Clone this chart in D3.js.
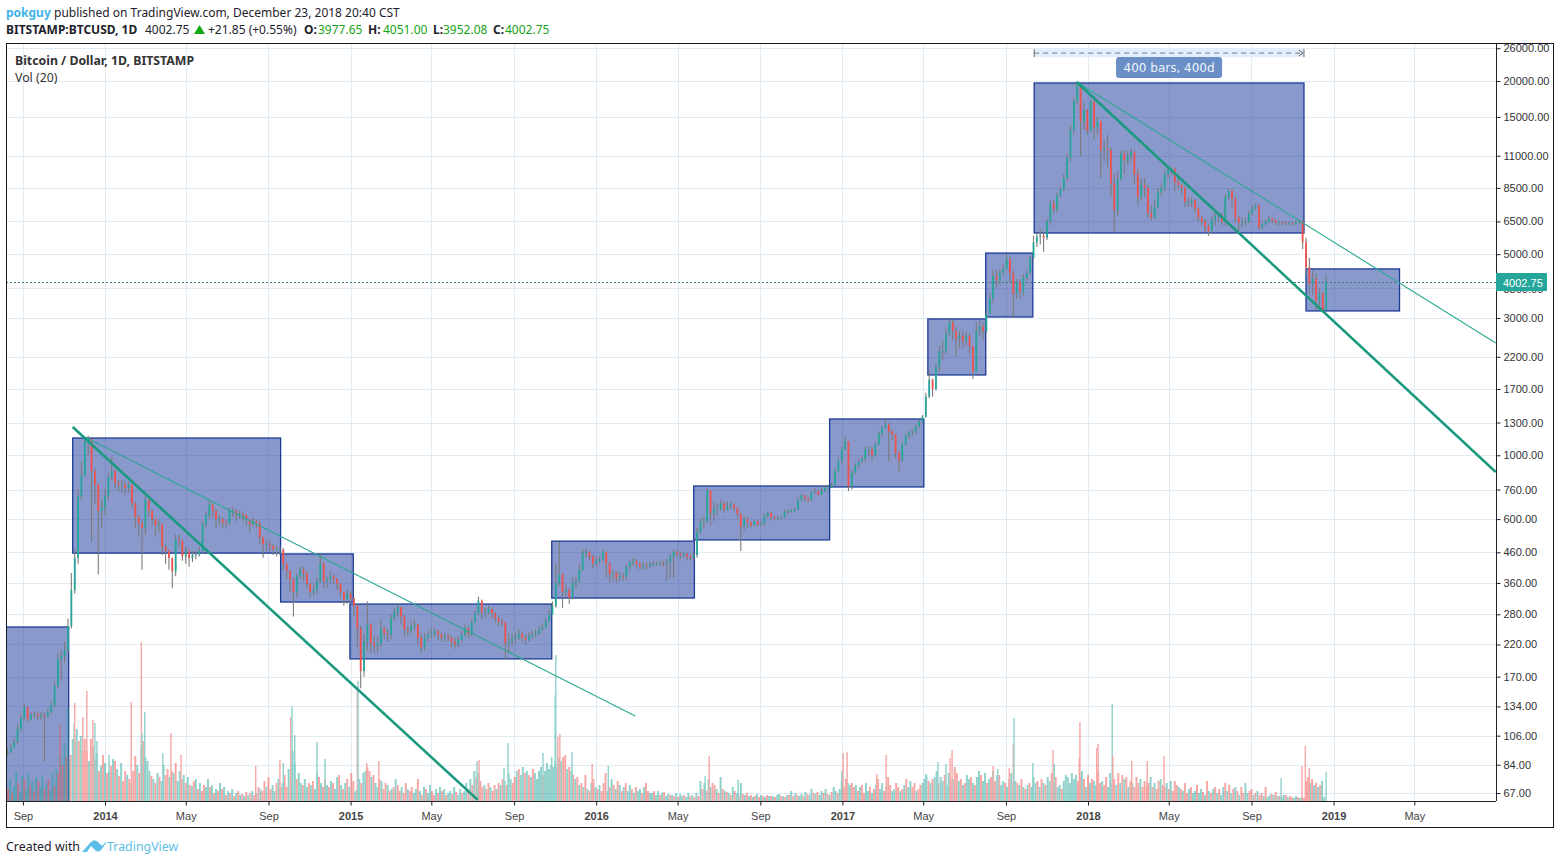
<!DOCTYPE html>
<html><head><meta charset="utf-8">
<script src="https://cdn.jsdelivr.net/npm/d3@7/dist/d3.min.js"></script>
<style>html,body{margin:0;padding:0;background:#fff}svg{display:block}</style>
</head><body><svg id="c" width="1560" height="864"></svg>
<script>
// ---- data ----
const candleFirstDate = "2013-08-09", candleStepDays = 5;
const closes = [93,96,101,112,122,133,121,125,126,124,
125,124,128,135,158,196,200,210,255,340,
440,720,850,1120,1140,880,790,640,660,720,
840,880,800,790,790,770,790,680,610,580,
560,700,640,600,570,575,480,465,440,395,
510,505,445,465,440,450,452,465,575,620,
675,640,600,600,585,580,640,640,620,625,
620,600,575,590,580,520,490,490,485,470,
470,470,420,395,370,335,380,400,390,358,
335,340,365,420,365,370,380,372,358,335,
315,330,318,300,250,178,225,258,222,218,
222,250,240,238,272,285,296,275,248,245,
255,258,232,215,232,238,240,245,238,232,
235,232,225,220,228,238,250,240,262,282,
312,285,285,292,282,272,265,262,222,226,
230,232,240,232,228,235,238,240,248,252,
265,280,300,360,385,335,340,320,360,365,
400,458,462,445,420,430,435,460,420,385,
390,375,380,378,410,425,430,420,410,415,
412,418,420,420,422,420,425,445,462,455,
450,455,445,440,450,540,585,590,755,630,
650,650,680,650,665,675,655,625,565,600,
585,572,590,575,580,615,630,610,603,608,
610,635,640,640,650,700,725,710,700,745,
750,730,750,770,775,790,880,960,1050,1120,
780,870,920,950,970,1050,1050,1000,1090,1190,
1250,1280,1210,1180,1020,960,1090,1170,1200,1210,
1260,1310,1360,1600,1830,1700,2030,2300,2300,2650,
2900,2700,2550,2600,2500,2600,2400,1950,2700,2800,
2700,3100,3500,4200,4050,4300,4450,4800,4300,3650,
4000,3700,4150,4300,4850,5500,5750,5800,5700,6500,
7500,7150,8000,8400,9200,10800,13500,17000,19300,14500,
15800,13500,17000,13800,14500,11500,11600,11500,8800,7100,
9100,11200,10600,11000,11300,9500,7900,8700,8500,6950,
6700,7300,8200,8500,9500,9800,9900,8900,8700,8500,
7600,7600,7700,7200,6700,6500,6250,6000,6600,6800,
6850,6500,7900,8300,7800,6700,6450,6480,6500,6950,
7200,7400,6200,6350,6500,6650,6550,6450,6450,6430,
6400,6420,6380,6480,6500,5500,4500,3950,4100,3450,
3650,3200,4002.75];
const highs = [96,99,104,116,125,137,134,128,129,128,
128,128,131,139,163,205,212,225,270,390,
470,760,950,1160,1170,1140,900,800,700,760,
870,990,890,820,820,810,810,790,690,620,
600,720,700,650,600,600,580,490,470,440,
530,530,510,480,470,465,465,480,590,640,
700,680,650,620,610,600,660,660,650,640,
640,625,600,610,600,590,520,510,505,490,
485,485,475,420,400,375,390,410,410,395,
360,355,375,455,425,380,395,385,375,360,
335,340,335,320,305,255,240,310,262,235,
235,270,255,250,280,295,305,298,280,255,
265,268,258,240,240,245,250,252,248,242,
242,240,235,232,235,245,258,255,270,290,
322,315,295,300,295,285,278,270,265,240,
240,242,248,245,238,242,245,248,255,260,
272,290,310,420,500,390,355,345,375,378,
420,470,475,465,450,445,445,470,465,425,
400,395,392,390,420,435,440,435,425,425,
425,425,428,428,430,430,435,455,470,470,
462,462,458,452,460,560,600,610,770,750,
690,680,700,690,690,690,680,660,630,615,
610,590,600,595,590,625,640,635,615,615,
618,645,650,650,660,715,735,730,715,755,
770,760,775,785,790,805,900,980,1070,1160,
1120,890,940,970,990,1070,1080,1070,1110,1210,
1270,1340,1300,1230,1190,1040,1110,1190,1220,1230,
1280,1330,1380,1650,1950,1850,2080,2400,2500,2750,
3000,2950,2800,2700,2700,2680,2650,2400,2900,2950,
2900,3200,3650,4400,4400,4450,4600,5000,4900,4400,
4100,4100,4250,4400,4950,5800,5950,6100,6000,6650,
7700,7700,8200,8600,9500,11200,14000,17500,19700,19300,
16800,16000,17200,17000,15000,14500,12500,13000,11800,9500,
9700,11500,11500,11400,11700,11500,9900,9200,9200,8700,
7400,7700,8500,8800,9800,10100,10000,10000,9200,8800,
8600,7900,7900,7800,7300,6800,6600,6400,6800,7000,
7000,6950,8100,8500,8400,7900,6800,6700,6700,7100,
7400,7500,7450,6500,6600,6800,6700,6600,6550,6540,
6500,6500,6480,6550,6600,6500,5700,4850,4400,4300,
3800,3700,4250];
const lows = [90,92,97,99,110,120,118,120,122,120,
120,86,122,126,133,155,165,190,205,250,
330,420,700,840,1000,500,680,385,560,620,
700,820,770,750,740,730,740,660,560,520,
400,530,610,570,520,540,450,420,400,345,
380,480,430,420,410,425,435,445,455,560,
600,610,560,570,560,555,570,610,590,600,
590,570,540,565,555,490,440,465,465,450,
445,450,400,370,335,275,320,370,365,345,
320,325,330,360,345,345,360,355,340,320,
300,305,305,275,215,155,170,210,205,205,
205,215,230,225,230,265,275,260,235,235,
240,245,220,205,210,225,230,235,228,225,
225,225,215,212,215,225,235,232,235,262,
278,270,272,280,270,262,255,255,195,205,
218,222,228,225,220,225,230,232,238,245,
252,265,280,295,350,295,320,305,315,345,
360,395,440,430,405,410,420,425,375,360,
365,360,365,365,370,400,410,405,400,400,
400,405,410,412,412,410,365,375,375,440,
435,440,430,430,430,440,535,560,580,570,
590,620,640,630,640,650,640,600,465,550,
560,560,565,565,565,570,605,595,595,595,
600,605,625,630,635,645,695,690,685,695,
730,720,725,745,760,770,785,870,940,1040,
750,760,860,900,940,950,1000,960,990,1080,
1170,1240,950,1130,980,880,950,1080,1140,1170,
1190,1250,1300,1350,1580,1600,1680,1950,2150,2250,
2600,2500,2200,2350,2350,2400,2250,1840,1950,2600,
2500,2650,3100,3400,3800,3900,4200,4400,4000,3000,
3500,3500,3600,4050,4250,4800,5300,5400,5100,5600,
6300,6900,7000,7900,8300,9000,10500,13000,16500,11000,
13500,13000,13300,12500,13000,9200,10500,10000,7900,5960,
6800,9000,9500,10200,10500,8800,7400,7700,7900,6700,
6550,6650,7200,8000,8300,9200,9400,8300,8400,8100,
7300,7300,7300,7000,6500,6300,5950,5800,5900,6300,
6500,6300,6300,7700,7300,6450,6000,6200,6300,6400,
6800,7100,6100,6100,6300,6400,6400,6300,6300,6300,
6280,6300,6250,6300,6350,5200,4200,3650,3600,3200,
3200,3130,3600];

// relative volume, one reading per three days; negative = down day
const volFirstDate = "2013-08-07", volStepDays = 3;
const volumes = [8,-12,22,-8,15,30,-18,9,25,-22,12,28,-16,20,-10,24,-20,14,26,-12,
18,-22,10,28,-15,32,-28,45,-36,58,-44,40,-46,62,60,72,-60,65,-50,-62,
-50,40,-62,55,-42,48,-30,35,-46,38,-28,30,-35,42,-40,32,-25,38,-20,-30,
26,-22,18,-30,-45,36,-28,55,-60,44,40,30,-25,22,-18,28,-24,20,36,-26,
-32,24,-30,28,-38,20,30,-22,26,-18,24,-16,15,-20,22,-12,18,-10,-16,14,
22,-14,16,-8,12,-10,18,-12,14,-6,10,-8,12,-5,8,-10,6,-7,5,-9,
6,-8,10,-6,8,-14,12,-10,-20,14,-24,-12,16,10,-18,22,-14,18,-26,-14,
32,-20,50,38,-22,28,18,-16,22,14,-18,16,-20,12,28,-24,18,-14,-22,16,
-14,20,-18,12,24,-26,16,-12,18,-22,14,-28,-20,10,12,22,-18,28,30,-34,
-30,24,-26,18,14,-22,20,-12,-18,16,-10,12,-14,22,-16,-10,14,-8,-18,12,
-10,-14,8,12,-22,10,-6,14,-12,8,16,-10,-6,12,-8,14,-10,12,-6,8,
10,-7,14,-9,6,12,-8,10,18,-12,22,-16,30,-24,28,-20,-14,16,-12,-18,
14,-10,-16,12,-18,16,-22,20,-16,28,22,-18,-24,30,-32,26,34,-28,30,-26,
24,-32,28,22,30,34,-26,30,38,32,36,34,40,34,44,40,-44,-46,32,-34,
30,-26,22,-24,16,-18,14,-26,12,-10,18,-22,14,-12,16,-10,-18,-28,10,-14,
22,-16,12,-20,16,-10,14,-18,10,16,-12,8,-14,10,12,-8,14,-18,-10,8,
8,-10,6,10,-6,8,-9,5,7,-6,6,-5,8,-4,7,5,-6,4,8,-5,
6,-4,8,-5,20,-12,18,-10,22,14,-18,-16,12,-8,24,-12,10,-9,8,-6,
14,-10,8,-6,18,-7,6,-8,5,-6,4,-5,7,-4,6,-5,4,-6,5,-5,
5,-4,6,7,-5,5,-4,6,-6,10,-5,8,-6,5,7,-5,9,-7,6,12,
-8,7,-9,6,10,-8,12,-7,6,-9,14,10,-8,12,20,-14,-22,18,16,-18,
-14,16,-10,14,-16,-8,18,10,-14,8,-12,16,-22,12,18,-10,14,-24,-16,10,
12,-18,-14,10,-12,16,-22,14,20,-14,-18,10,-12,-16,18,22,26,-20,18,-22,
24,30,-18,24,20,-26,16,28,-20,22,-34,-28,20,-22,16,-18,26,22,-24,18,
-16,24,30,-26,20,28,-18,22,-24,30,-20,26,-26,16,20,-18,14,-22,28,-18,
20,-18,16,-22,14,-12,16,-18,14,24,18,-20,14,-22,18,-16,24,20,-28,16,
-24,14,16,-12,20,26,24,18,28,22,26,-20,-24,30,-22,14,-26,18,-22,20,
16,-30,-18,20,-16,-24,14,28,-18,-22,16,-28,18,-26,22,-24,14,-20,18,-14,
-24,-18,22,-14,-20,-16,-18,24,-14,18,-12,-20,22,-16,-14,18,-12,20,-10,-20,
-16,14,-12,10,-18,-8,12,-14,8,10,-16,8,12,-9,6,-20,10,-8,12,-14,
8,-12,6,14,-18,10,-16,8,-12,14,-10,6,-14,-8,18,8,-10,-12,6,-8,
10,-6,-8,5,-14,4,6,-7,6,-9,5,-5,4,6,-6,4,-5,-4,3,5,
-4,3,4,-3,-20,-24,18,-22,16,-18,14,-16,20,4];
// individual tall volume bars: days after 2014-01-01, and size
const spikeDays = [-67,-55,-46,-45,-33,-27,-18,-15,-12,6,39,54,55,59,86,98,113,224,260,265,276,278,282,315,327,375,376,389,407,553,556,593,599,651,664,669,670,673,676,694,724,748,892,898,941,1095,1097,1103,1147,1161,1220,1238,1250,1256,1259,1320,1327,1344,1350,1351,1379,1409,1411,1448,1449,1474,1476,1497,1498,1526,1549,1574,1748,1779,1784,1790,1815];
const spikeVols = [-76,93,78,-98,-84,-110,-81,78,60,46,-99,-159,68,89,48,-68,-46,-35,-41,38,-84,95,66,59,42,-115,120,-38,-40,40,-41,33,58,48,44,106,146,-64,-67,49,-37,35,25,-45,21,30,-48,-49,-27,-46,27,39,37,-43,-51,-35,32,-33,-57,83,38,-51,37,-43,-79,-53,-57,97,-45,-40,-40,-45,23,-35,-55,-33,29];

// [start, end, high price, low price]
const boxes = [
 ["2013-07-01","2013-11-08",253,40],
 ["2013-11-14","2014-09-19",1148,457],
 ["2014-09-19","2015-01-05",454,309],
 ["2014-12-31","2015-10-27",304,196],
 ["2015-10-27","2016-05-26",503,319],
 ["2016-05-25","2016-12-13",782,508],
 ["2016-12-13","2017-05-02",1337,776],
 ["2017-05-08","2017-08-02",2978,1902],
 ["2017-08-02","2017-10-11",5045,3026],
 ["2017-10-13","2018-11-18",19682,5925],
 ["2018-11-21","2019-04-09",4444,3175]
];
// [start date, start price, end date, end price]
const thickLines = [
 ["2013-11-14",1254,"2015-07-09",63.4],
 ["2017-12-15",19840,"2019-08-30",875]
];
const thinLines = [
 ["2013-12-02",1158,"2016-02-28",124],
 ["2017-12-15",19840,"2019-08-30",2458]
];
const priceTicks = [26000,20000,15000,11000,8500,6500,5000,3800,3000,2200,1700,1300,1000,760,600,460,360,280,220,170,134,106,84,67];
const timeTicks = ["2013-09-01","2014-01-01","2014-05-01","2014-09-01","2015-01-01","2015-05-01","2015-09-01","2016-01-01","2016-05-01","2016-09-01","2017-01-01","2017-05-01","2017-09-01","2018-01-01","2018-05-01","2018-09-01","2019-01-01","2019-05-01"];
const lastPrice = 4002.75;
const measure = {start:"2017-10-13", end:"2018-11-18", label:"400 bars, 400d"};

// ---- layout ----
const L=6,R=1553,T=43,B=827,PR=1496,PB=801;
const DAY=864e5, D=s=>new Date(s+"T00:00:00Z");
const x=d3.scaleUtc().domain([D("2014-01-01"),D("2018-01-01")]).range([105,1088]);
const y=d3.scaleLog().base(10).domain([20000,67]).range([81,793]);
const vol=d3.scaleLinear().domain([0,160]).range([PB,PB-160]);
const UP="#26a69a",DN="#ef5350",GRID="#e1ebf3";
const svg=d3.select("#c");
const UI="'Noto Sans','Open Sans',sans-serif", AX="'Liberation Sans',Arial,sans-serif";

svg.append("defs").append("clipPath").attr("id","pane").append("rect")
  .attr("x",L).attr("y",T).attr("width",PR-L).attr("height",PB-T);

// grid
const grid=svg.append("g").attr("stroke",GRID).attr("stroke-width",1);
grid.selectAll(".gv").data(timeTicks).join("line").attr("x1",d=>Math.round(x(D(d)))+.5).attr("x2",d=>Math.round(x(D(d)))+.5).attr("y1",T).attr("y2",PB);
grid.selectAll(".gh").data(priceTicks).join("line").attr("x1",L).attr("x2",PR).attr("y1",d=>Math.round(y(d))+.5).attr("y2",d=>Math.round(y(d))+.5);

const pane=svg.append("g").attr("clip-path","url(#pane)");

// boxes
pane.append("g").selectAll("rect").data(boxes).join("rect")
  .attr("x",d=>x(D(d[0]))).attr("width",d=>x(D(d[1]))-x(D(d[0])))
  .attr("y",d=>y(d[2])).attr("height",d=>y(d[3])-y(d[2]))
  .attr("fill","rgba(21,51,153,.5)").attr("stroke","#1b3a96").attr("stroke-width",1.3);

// volume (flattened at half opacity, above the boxes)
const vg=pane.append("g").attr("opacity",.5);
const v0=D(volFirstDate).getTime();
vg.append("g").selectAll("rect").data(volumes).join("rect")
  .attr("x",(d,i)=>x(new Date(v0+i*volStepDays*DAY))-1).attr("width",2)
  .attr("y",d=>vol(Math.abs(d))).attr("height",d=>PB-vol(Math.abs(d)))
  .attr("fill",d=>d<0?DN:UP);
const base=D("2014-01-01").getTime();
vg.append("g").selectAll("rect").data(spikeVols).join("rect")
  .attr("x",(d,i)=>x(new Date(base+spikeDays[i]*DAY))-.7).attr("width",1.4)
  .attr("y",d=>vol(Math.abs(d))).attr("height",d=>PB-vol(Math.abs(d)))
  .attr("fill",d=>d<0?DN:UP);

// last price lines
const ly=Math.round(y(lastPrice))+.5;
pane.append("line").attr("x1",L).attr("x2",PR).attr("y1",ly).attr("y2",ly).attr("stroke","#3d7f7c").attr("stroke-dasharray","2 2").attr("stroke-width",1);

// candles
const c0=D(candleFirstDate).getTime();
const cx=i=>x(new Date(c0+i*candleStepDays*DAY));
const cdl=pane.append("g");
cdl.append("g").selectAll("line").data(closes).join("line")
  .attr("x1",(d,i)=>cx(i)).attr("x2",(d,i)=>cx(i))
  .attr("y1",(d,i)=>y(highs[i])).attr("y2",(d,i)=>y(lows[i]))
  .attr("stroke","#7b7b7b").attr("stroke-width",1.1);
cdl.append("g").selectAll("rect").data(closes).join("rect")
  .attr("x",(d,i)=>cx(i)-.9).attr("width",1.8)
  .attr("y",(d,i)=>y(Math.max(d,i?closes[i-1]:d)))
  .attr("height",(d,i)=>Math.max(.8,Math.abs(y(d)-y(i?closes[i-1]:d))))
  .attr("fill",(d,i)=>(i&&d<closes[i-1])?DN:UP);

// trend lines
const tl=(data,w,c)=>pane.append("g").selectAll("line").data(data).join("line")
  .attr("x1",d=>x(D(d[0]))).attr("y1",d=>y(d[1])).attr("x2",d=>x(D(d[2]))).attr("y2",d=>y(d[3]))
  .attr("stroke",c).attr("stroke-width",w);
tl(thinLines,1.1,"#2aa892");
tl(thickLines,2.6,"#1b9a80");

// measure tool
const mx1=x(D(measure.start)),mx2=x(D(measure.end)),my=y(25000);
const m=svg.append("g");
m.append("rect").attr("x",mx1).attr("width",mx2-mx1).attr("y",my-4).attr("height",8).attr("fill","#e3eefc");
m.append("line").attr("x1",mx1).attr("x2",mx2).attr("y1",my).attr("y2",my).attr("stroke","#8a8f9c").attr("stroke-width",1.2).attr("stroke-dasharray","5 4");
m.append("path").attr("d",`M${mx1},${my-4}V${my+4}M${mx2},${my-4}V${my+4}M${mx2-5},${my-3}L${mx2-1},${my}L${mx2-5},${my+3}`).attr("fill","none").attr("stroke","#666");
const mc=(mx1+mx2)/2;
m.append("rect").attr("x",mc-53).attr("width",106).attr("y",my+4).attr("height",21).attr("rx",3).attr("fill","#6a8fc7");
m.append("text").attr("x",mc).attr("y",my+19).attr("text-anchor","middle").attr("fill","#eef3fb").attr("font-family","'DejaVu Sans',sans-serif").attr("font-size",12).text(measure.label);

// axes
const ax=svg.append("g").attr("transform",`translate(${PR+.5},0)`)
  .call(d3.axisRight(y).tickValues(priceTicks).tickFormat(d3.format(".2f")).tickSize(4).tickPadding(3));
const bx=svg.append("g").attr("transform",`translate(0,${PB+.5})`)
  .call(d3.axisBottom(x).tickValues(timeTicks.map(D)).tickSize(4).tickPadding(7)
    .tickFormat(d=>d.getUTCMonth()===0?String(d.getUTCFullYear()):d3.utcFormat("%b")(d)));
ax.selectAll("text").attr("font-family",AX).attr("font-size",11).attr("fill","#333");
bx.selectAll("text").attr("font-family",AX).attr("font-size",11).attr("fill","#444")
  .attr("font-weight",d=>d.getUTCMonth()===0?"bold":"normal");
ax.selectAll("line").attr("stroke","#222"); bx.selectAll("line").attr("stroke","#222");
ax.select(".domain").attr("stroke","#222").attr("d",`M0,${T}V${PB}`);
bx.select(".domain").attr("stroke","#222").attr("d",`M${L},0H${PR}`);

// price tag
svg.append("rect").attr("x",PR).attr("y",ly-9.5).attr("width",51).attr("height",18).attr("fill",UP);
svg.append("text").attr("x",PR+7).attr("y",ly+4).attr("fill","#fff").attr("font-family",AX).attr("font-size",11).text(d3.format(".2f")(lastPrice));

// frame
svg.append("rect").attr("x",L+.5).attr("y",T+.5).attr("width",R-L).attr("height",B-T).attr("fill","none").attr("stroke","#131722");

// header text
const txt=(t,px,py,o={})=>svg.append("text").attr("x",px).attr("y",py).attr("font-family",o.f||UI).attr("font-size",o.s||12)
  .attr("font-weight",o.b?"bold":"normal").attr("fill",o.c||"#1e222d").text(t);
txt("pokguy",6,17,{b:1,c:"#40b3e6"});
txt("published on TradingView.com, December 23, 2018 20:40 CST",54,17);
txt("BITSTAMP:BTCUSD, 1D",6,34,{b:1});
txt("4002.75",145,34);
svg.append("path").attr("d","M194,34L199.5,25L205,34Z").attr("fill","#11a811");
txt("+21.85 (+0.55%)",208,34);
const G="#17a317";
txt("O:",304,34,{b:1});txt("3977.65",318,34,{c:G});
txt("H:",368,34,{b:1});txt("4051.00",383,34,{c:G});
txt("L:",433,34,{b:1});txt("3952.08",443,34,{c:G});
txt("C:",493,34,{b:1});txt("4002.75",505,34,{c:G});
txt("Bitcoin / Dollar, 1D, BITSTAMP",15,65,{b:1,c:"#333",s:12.3});
txt("Vol (20)",15,82,{c:"#333",s:12.3});
txt("Created with",6,851,{s:12.4});
svg.append("path").attr("d","M82,852L90,843Q94,838 98,842L102,846Q104,843 107,842L101,850Q98,853 95,850L91,846L87,852Z").attr("fill","#5dbfe9");
txt("TradingView",107,851,{s:12.4,c:"#5dbfe9"});
</script></body></html>
